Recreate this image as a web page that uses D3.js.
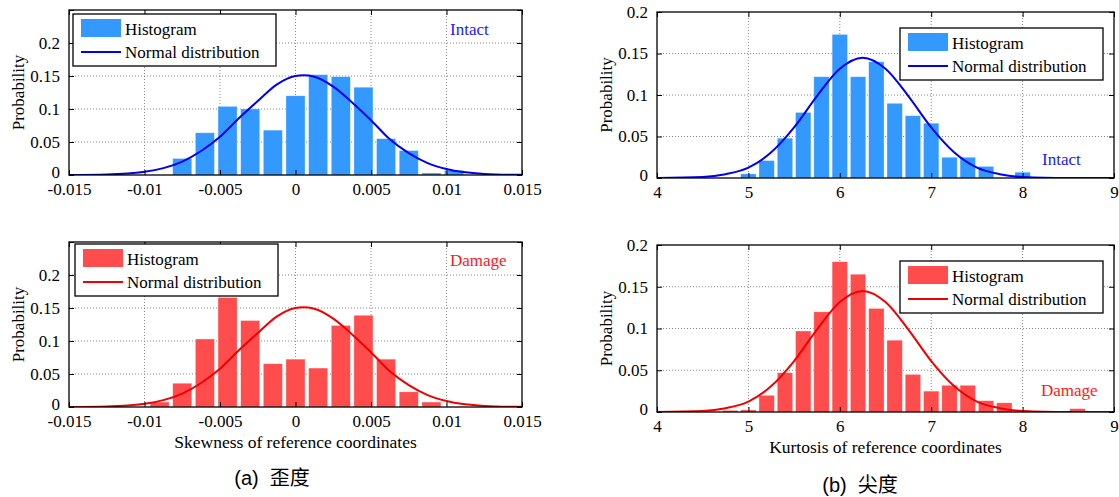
<!DOCTYPE html>
<html>
<head>
<meta charset="utf-8">
<script src="https://cdn.jsdelivr.net/npm/d3@7"></script>
<style>
html,body{margin:0;padding:0;background:#fff;}
svg{display:block;}
</style>
</head>
<body>
<svg id="chart" width="1119" height="497"></svg>
<script>
// ---------------- data ----------------
const skewBins = [-0.009, -0.0075, -0.006, -0.0045, -0.003, -0.0015, 0, 0.0015, 0.003, 0.0045, 0.006, 0.0075, 0.009, 0.0105];
const skewIntact = [0, 0.025, 0.064, 0.104, 0.100, 0.068, 0.120, 0.152, 0.149, 0.133, 0.055, 0.037, 0.003, 0.007];
const skewDamage = [0.0075, 0.036, 0.103, 0.166, 0.131, 0.0655, 0.0725, 0.059, 0.1235, 0.139, 0.0725, 0.023, 0.0075, 0];

const kurtBins = [4.8, 5.0, 5.2, 5.4, 5.6, 5.8, 6.0, 6.2, 6.4, 6.6, 6.8, 7.0, 7.2, 7.4, 7.6, 7.8, 8.0, 8.2, 8.4, 8.6];
const kurtIntact = [0, 0.005, 0.021, 0.048, 0.079, 0.122, 0.173, 0.122, 0.140, 0.090, 0.075, 0.066, 0.025, 0.025, 0.014, 0, 0.007, 0, 0, 0];
const kurtDamage = [0.002, 0.0025, 0.020, 0.047, 0.097, 0.120, 0.180, 0.165, 0.124, 0.086, 0.045, 0.025, 0.032, 0.032, 0.0135, 0.011, 0.002, 0.001, 0, 0.004];

// normal-distribution curves
const skewCurveX = [-0.015, -0.0125, -0.01, -0.00875, -0.0075, -0.00625, -0.005, -0.00375, -0.0025, -0.00125, 0, 0.0005, 0.00125, 0.0025, 0.00375, 0.005, 0.00625, 0.0075, 0.00875, 0.01, 0.0125, 0.015];
const skewCurveY = [0.0001, 0.0008, 0.0048, 0.0104, 0.0204, 0.0364, 0.058, 0.086, 0.112, 0.137, 0.150, 0.151, 0.149, 0.134, 0.110, 0.083, 0.054, 0.033, 0.018, 0.009, 0.0017, 0.0002];
const kurtCurveX = [4.0, 4.5, 4.75, 5.0, 5.25, 5.5, 5.75, 6.0, 6.25, 6.5, 6.75, 7.0, 7.25, 7.5, 7.75, 8.0, 8.5, 9.0];
const kurtCurveY = [0.0001, 0.0013, 0.0046, 0.0125, 0.031, 0.061, 0.0987, 0.1317, 0.145, 0.1317, 0.0987, 0.061, 0.031, 0.0125, 0.0046, 0.0013, 0.0001, 0];

const skewTicksX = [-0.015, -0.01, -0.005, 0, 0.005, 0.01, 0.015];
const skewTickLabels = ["-0.015", "-0.01", "-0.005", "0", "0.005", "0.01", "0.015"];
const skewTicksY = [0, 0.05, 0.1, 0.15, 0.2, 0.25];
const skewTickLabelsY = ["0", "0.05", "0.1", "0.15", "0.2", ""];
const kurtTicksX = [4, 5, 6, 7, 8, 9];
const kurtTickLabels = ["4", "5", "6", "7", "8", "9"];
const kurtTicksY = [0, 0.05, 0.1, 0.15, 0.2];
const kurtTickLabelsY = ["0", "0.05", "0.1", "0.15", "0.2"];

const legendLabels = ["Histogram", "Normal distribution"];
const stateLabels = ["Intact", "Damage"];
const xLabels = ["Skewness of reference coordinates", "Kurtosis of reference coordinates"];
const captions = ["(a)  歪度", "(b)  尖度"];
const yLabel = "Probability";

// ---------------- drawing ----------------
const svg = d3.select("#chart");
const SERIF = "'Liberation Serif','Times New Roman',serif";
const BLUE_BAR = "#3399FF", RED_BAR = "#FF4D4D";
const BLUE_LINE = "#0000F0", RED_LINE = "#F20000";

const panels = [
  {x0:69, x1:522, y0:10, y1:175, xd:[-0.015,0.015], yd:[0,0.25], bins:skewBins, vals:skewIntact, binW:0.0015,
   cx:skewCurveX, cy:skewCurveY, xt:skewTicksX, xtl:skewTickLabels, yt:skewTicksY, ytl:skewTickLabelsY,
   bar:BLUE_BAR, line:BLUE_LINE, leg:{x:73, y:14}, state:{t:stateLabels[0], x:450, y:35}, xlab:null},
  {x0:69, x1:522, y0:242, y1:407, xd:[-0.015,0.015], yd:[0,0.25], bins:skewBins, vals:skewDamage, binW:0.0015,
   cx:skewCurveX, cy:skewCurveY, xt:skewTicksX, xtl:skewTickLabels, yt:skewTicksY, ytl:skewTickLabelsY,
   bar:RED_BAR, line:RED_LINE, leg:{x:75, y:244}, state:{t:stateLabels[1], x:450, y:266}, xlab:{t:xLabels[0], y:448}},
  {x0:657, x1:1114, y0:12, y1:178, xd:[4,9], yd:[0,0.2], bins:kurtBins, vals:kurtIntact, binW:0.2,
   cx:kurtCurveX, cy:kurtCurveY, xt:kurtTicksX, xtl:kurtTickLabels, yt:kurtTicksY, ytl:kurtTickLabelsY,
   bar:BLUE_BAR, line:BLUE_LINE, leg:{x:900, y:28}, state:{t:stateLabels[0], x:1042, y:165}, xlab:null},
  {x0:657, x1:1114, y0:245, y1:412, xd:[4,9], yd:[0,0.2], bins:kurtBins, vals:kurtDamage, binW:0.2,
   cx:kurtCurveX, cy:kurtCurveY, xt:kurtTicksX, xtl:kurtTickLabels, yt:kurtTicksY, ytl:kurtTickLabelsY,
   bar:RED_BAR, line:RED_LINE, leg:{x:900, y:261}, state:{t:stateLabels[1], x:1041, y:396}, xlab:{t:xLabels[1], y:453}}
];

panels.forEach((p, i) => {
  const g = svg.append("g");
  const x = d3.scaleLinear().domain(p.xd).range([p.x0, p.x1]);
  const y = d3.scaleLinear().domain(p.yd).range([p.y1, p.y0]);
  const clipId = "clip" + i;
  svg.append("clipPath").attr("id", clipId).append("rect")
    .attr("x", p.x0).attr("y", p.y0).attr("width", p.x1 - p.x0).attr("height", p.y1 - p.y0);

  // grid
  const grid = g.append("g").attr("stroke", "#8a8a8a").attr("stroke-width", 1).attr("stroke-dasharray", "1,2");
  p.xt.slice(1, -1).forEach(t => grid.append("line").attr("x1", x(t)).attr("x2", x(t)).attr("y1", p.y0).attr("y2", p.y1));
  p.yt.slice(1).forEach(t => { if (y(t) > p.y0 + 0.5) grid.append("line").attr("x1", p.x0).attr("x2", p.x1).attr("y1", y(t)).attr("y2", y(t)); });

  // bars
  const bw = (x(p.binW) - x(0)) * 0.84;
  g.append("g").attr("clip-path", `url(#${clipId})`).selectAll("rect")
    .data(p.bins.map((b, k) => ({b, v: p.vals[k]})).filter(d => d.v > 0))
    .join("rect")
    .attr("x", d => x(d.b) - bw / 2).attr("width", bw)
    .attr("y", d => y(d.v)).attr("height", d => y(0) - y(d.v))
    .attr("fill", p.bar).attr("stroke", "#ffffff").attr("stroke-opacity", 0.5).attr("stroke-width", 0.6);

  // normal curve
  const line = d3.line().x(d => x(d[0])).y(d => y(d[1])).curve(d3.curveMonotoneX);
  g.append("path").attr("clip-path", `url(#${clipId})`)
    .attr("d", line(p.cx.map((v, k) => [v, p.cy[k]])))
    .attr("fill", "none").attr("stroke", p.line).attr("stroke-width", 2);

  // axes box
  g.append("rect").attr("x", p.x0).attr("y", p.y0).attr("width", p.x1 - p.x0).attr("height", p.y1 - p.y0)
    .attr("fill", "none").attr("stroke", "#000").attr("stroke-width", 1.3);

  // ticks (inward, all sides) via d3 axes
  const xb = d3.axisBottom(x).tickValues(p.xt).tickFormat((d, k) => p.xtl[k]).tickSize(-5).tickPadding(8);
  const xtop = d3.axisTop(x).tickValues(p.xt).tickFormat("").tickSize(-5);
  const yl = d3.axisLeft(y).tickValues(p.yt).tickFormat((d, k) => p.ytl[k]).tickSize(-5).tickPadding(9);
  const yr = d3.axisRight(y).tickValues(p.yt).tickFormat("").tickSize(-5);
  const styleAxis = sel => {
    sel.select(".domain").remove();
    sel.selectAll(".tick line").attr("stroke", "#000").attr("stroke-width", 1);
    sel.selectAll("text").attr("font-family", SERIF).attr("font-size", "17px").attr("fill", "#000");
  };
  g.append("g").attr("transform", `translate(0,${p.y1})`).call(xb).call(styleAxis);
  g.append("g").attr("transform", `translate(0,${p.y0})`).call(xtop).call(styleAxis);
  const yAx = g.append("g").attr("transform", `translate(${p.x0},0)`).call(yl).call(styleAxis);
  // lift the "0" label slightly so it does not collide with the first x label
  yAx.selectAll(".tick").filter(d => d === 0).select("text").attr("y", -3);
  g.append("g").attr("transform", `translate(${p.x1},0)`).call(yr).call(styleAxis);

  // y label
  g.append("text").text(yLabel)
    .attr("transform", `translate(${p.x0 - 45},${(p.y0 + p.y1) / 2}) rotate(-90)`)
    .attr("text-anchor", "middle").attr("font-family", SERIF).attr("font-size", "17px").attr("fill", "#000");

  // legend
  const lg = g.append("g").attr("transform", `translate(${p.leg.x},${p.leg.y})`);
  lg.append("rect").attr("x", 0).attr("y", 0).attr("width", 203).attr("height", 52)
    .attr("fill", "#fff").attr("stroke", "#000").attr("stroke-width", 1.3);
  lg.append("rect").attr("x", 8).attr("y", 5).attr("width", 40).attr("height", 18).attr("fill", p.bar);
  lg.append("line").attr("x1", 8).attr("x2", 48).attr("y1", 38).attr("y2", 38).attr("stroke", p.line).attr("stroke-width", 2);
  lg.append("text").text(legendLabels[0]).attr("x", 52).attr("y", 21)
    .attr("font-family", SERIF).attr("font-size", "17px").attr("fill", "#000");
  lg.append("text").text(legendLabels[1]).attr("x", 52).attr("y", 44)
    .attr("font-family", SERIF).attr("font-size", "17px").attr("fill", "#000");

  // state label
  g.append("text").text(p.state.t).attr("x", p.state.x).attr("y", p.state.y)
    .attr("font-family", SERIF).attr("font-size", "17px").attr("fill", p.line === BLUE_LINE ? "#1a1aff" : "#ff1a1a");

  // x label
  if (p.xlab) {
    g.append("text").text(p.xlab.t).attr("x", (p.x0 + p.x1) / 2).attr("y", p.xlab.y)
      .attr("text-anchor", "middle").attr("font-family", SERIF).attr("font-size", "17.5px").attr("fill", "#000");
  }
});

// captions
svg.append("text").text(captions[0]).attr("x", 272).attr("y", 485)
  .attr("text-anchor", "middle").style("white-space", "pre")
  .attr("font-family", "'Liberation Sans','Noto Sans CJK SC',sans-serif").attr("font-size", "20px").attr("fill", "#000");
svg.append("text").text(captions[1]).attr("x", 860).attr("y", 492)
  .attr("text-anchor", "middle").style("white-space", "pre")
  .attr("font-family", "'Liberation Sans','Noto Sans CJK SC',sans-serif").attr("font-size", "20px").attr("fill", "#000");
</script>
</body>
</html>
